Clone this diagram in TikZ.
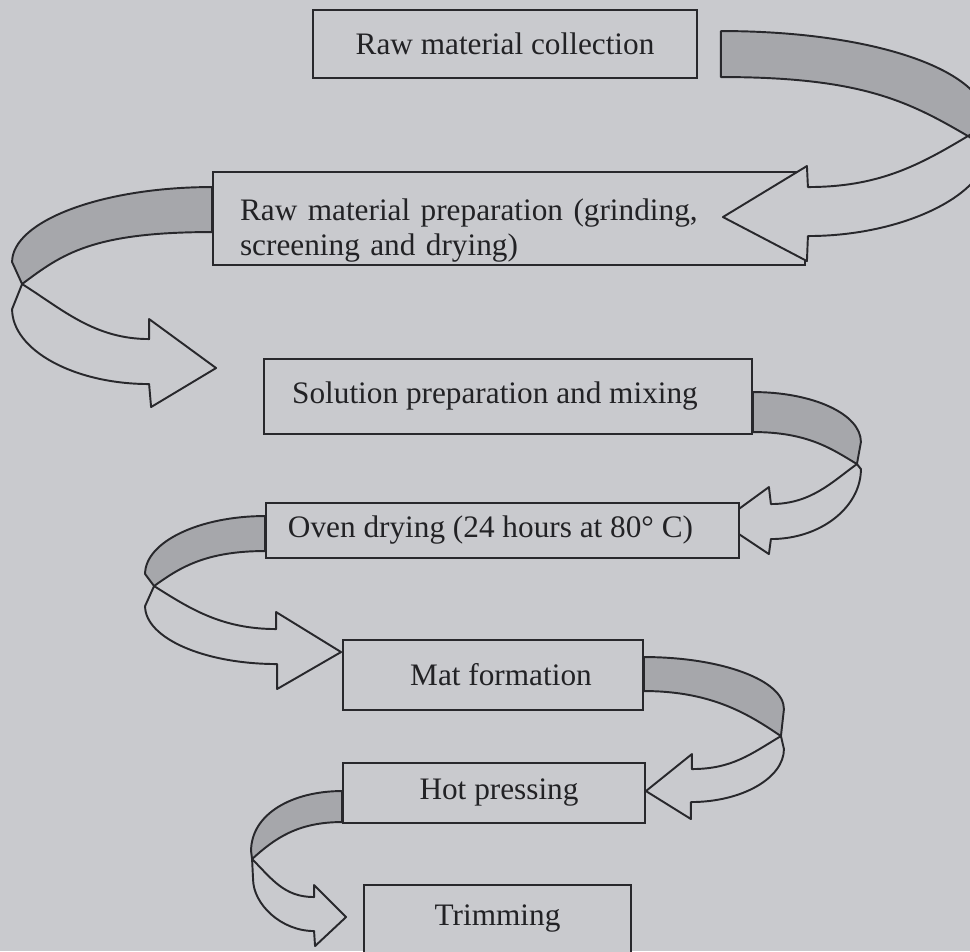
\documentclass[tikz,border=0pt]{standalone}
\usepackage{fontspec}
\setmainfont{Liberation Serif}
\usetikzlibrary{backgrounds}
\definecolor{paper}{RGB}{201,202,206}
\definecolor{band}{RGB}{166,167,171}
\definecolor{ink}{RGB}{40,40,44}

\begin{document}
\begin{tikzpicture}[x=0.02cm,y=0.02cm,yscale=-1,
 n/.style={draw=ink,fill=paper,line width=1.1pt,inner sep=0pt,align=center,text=ink!85!black,font=\fontsize{17.8}{20}\selectfont},
 back/.style={draw=ink,fill=band,line width=1.1pt,line join=round},
 front/.style={draw=ink,fill=paper,line width=1.1pt,line join=round}]
\useasboundingbox (0,0) rectangle (970,951);
\clip (0,0) rectangle (970,951);
\node[n,minimum width=7.68cm,minimum height=1.36cm] (b1) at (505,44) {Raw material collection};
\node[n,minimum width=11.84cm,minimum height=1.86cm,text width=10.76cm,align=left] (b2) at (509,218.5) {\rule{0pt}{26pt}Raw material preparation (grinding,\\screening and drying)};
\node[n,minimum width=9.76cm,minimum height=1.5cm] (b3) at (508,396.5) {Solution preparation and mixing\kern0.52cm};
\node[n,minimum width=9.46cm,minimum height=1.1cm] (b4) at (502.5,530.5) {Oven drying (24 hours at 80° C)\kern0.48cm};
\node[n,minimum width=6cm,minimum height=1.4cm] (b5) at (493,675) {\kern0.32cm Mat formation};
\node[n,minimum width=6.04cm,minimum height=1.2cm] (b6) at (494,793) {\kern0.2cm Hot pressing};
\node[n,minimum width=5.34cm,minimum height=1.36cm] (b7) at (497.5,919) {Trimming};
\begin{pgfonlayer}{background}
\fill[paper] (0,0) rectangle (970,951);
\begin{scope}[shift={(b2.north west)},xscale=-1]
\filldraw[back] (0,16) .. controls +(110,0) and +(0,-41) .. (200,91) -- (190,113) .. controls +(-40,-30) and +(120,0) .. (0,61) -- cycle;
\filldraw[front] (190,113) .. controls +(-40,25) and +(55,0) .. (63,168) -- (63,148) -- (-4,197) -- (61,236) -- (63,213) .. controls +(75,0) and +(0,41) .. (200,138) -- cycle;
\end{scope}
\begin{scope}[shift={(b3.north east)}]
\filldraw[back] (0,34) .. controls +(60,0) and +(0,-28) .. (108,84) -- (104,106) .. controls +(-25,-15) and +(55,0) .. (0,74) -- cycle;
\filldraw[front] (104,106) .. controls +(-25,18) and +(40,0) .. (18,146) -- (16,129) -- (-32,164) -- (16,196) -- (18,181) .. controls +(50,0) and +(0,38) .. (108,111) -- cycle;
\end{scope}
\begin{scope}[shift={(b4.north west)},xscale=-1]
\filldraw[back] (0,14) .. controls +(66,0) and +(0,-32) .. (120,72) -- (111,84) .. controls +(-25,-18) and +(60,0) .. (0,49) -- cycle;
\filldraw[front] (111,84) .. controls +(-35,22) and +(55,0) .. (-11,127) -- (-11,110) -- (-76,150) -- (-12,187) -- (-12,162) .. controls +(73,0) and +(0,32) .. (120,104) -- cycle;
\end{scope}
\begin{scope}[shift={(b5.north east)}]
\filldraw[back] (0,18) .. controls +(77,0) and +(0,-29) .. (140,70) -- (137,97) .. controls +(-30,-20) and +(70,0) .. (0,52) -- cycle;
\filldraw[front] (137,97) .. controls +(-30,18) and +(40,0) .. (48,130) -- (48,115) -- (2,152) -- (47,180) -- (47,163) .. controls +(51,0) and +(0,29) .. (140,110) -- cycle;
\end{scope}
\begin{scope}[shift={(b6.north west)},xscale=-1]
\filldraw[back] (0,29) .. controls +(50,0) and +(0,-37) .. (91,89) -- (90,97) .. controls +(-22,-20) and +(45,0) .. (0,60) -- cycle;
\filldraw[front] (90,97) .. controls +(-20,20) and +(30,0) .. (28,135) -- (28,123) -- (-4,155) -- (27,184) -- (28,169) .. controls +(33,0) and +(0,25) .. (89,117) -- cycle;
\end{scope}
\end{pgfonlayer}
\begin{scope}[shift={(b1.north east)}]
\filldraw[back] (23,22) .. controls +(150,0) and +(0,-55) .. (290,115) -- (270,127) .. controls +(-60,-35) and +(140,0) .. (23,68) -- cycle;
\filldraw[front] (270,127) .. controls +(-50,30) and +(70,0) .. (110,178) -- (109,157) -- (25,208) -- (109,252) -- (110,227) .. controls +(96,0) and +(0,45) .. (290,140) -- cycle;
\end{scope}
\end{tikzpicture}
\end{document}
